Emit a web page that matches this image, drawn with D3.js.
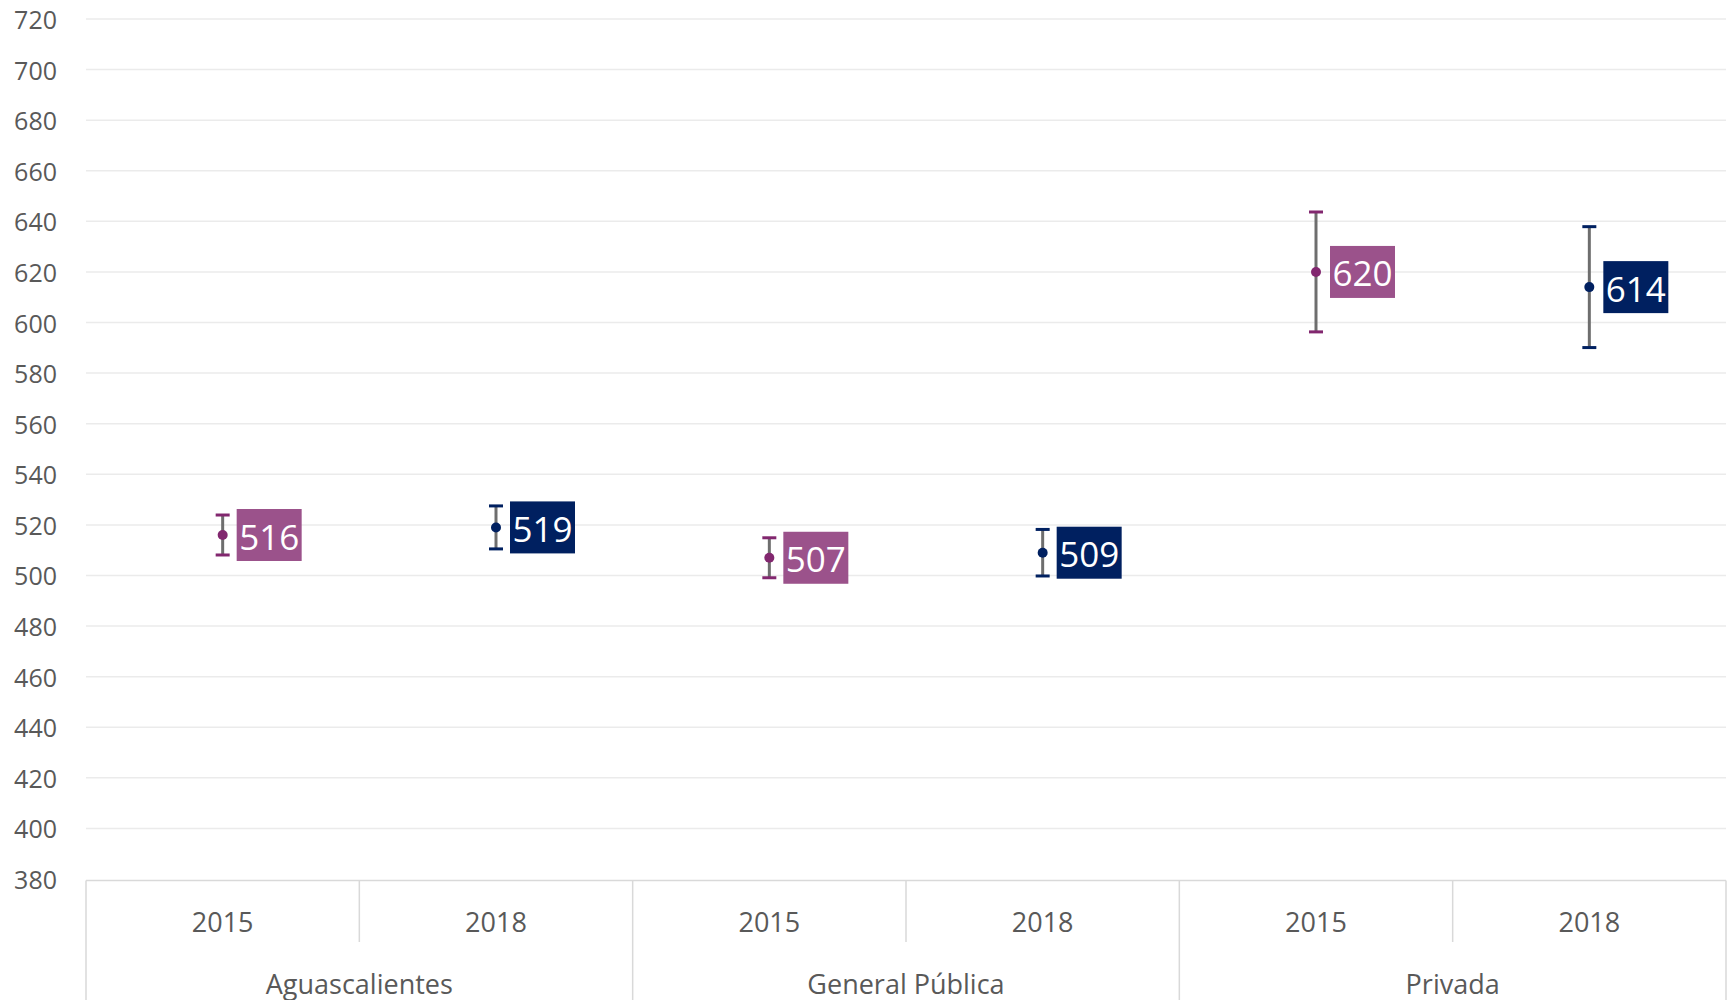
<!DOCTYPE html>
<html lang="es">
<head>
    <meta charset="UTF-8">
    <title>Puntajes 2015 - 2018</title>
    <style>
        body{ margin: 0; background: #fff; }
        svg{ display: block; }
        text{ font-family: "Open Sans", "Noto Sans", sans-serif; }
    </style>
    <script src="https://cdn.jsdelivr.net/npm/d3@7"></script>
</head>
<body>
<script>
    // datos
    const groups = ["Aguascalientes", "General Pública", "Privada"]
    const years = ["2015", "2018"]
    const values2015 = [516, 507, 620]
    const values2018 = [519, 509, 614]
    const err2015 = [7.9, 7.9, 23.7]
    const err2018 = [8.5, 9.2, 23.9]
    const yTicks = d3.range(380, 721, 20)

    const width = 1733
    const height = 1000
    const margin = {left: 86, right: 7, top: 19, bottom: 121}

    const colors = {
        "2015": {dot: "#82276f", box: "#9b528b"},
        "2018": {dot: "#002060", box: "#002060"}
    }

    let svg = d3.select("body").append("svg")
        .attr("width", width)
        .attr("height", height)

    // one row per point
    let rows = []
    groups.forEach((g, i) => {
        rows.push({group: g, year: "2015", value: values2015[i], err: err2015[i]})
        rows.push({group: g, year: "2018", value: values2018[i], err: err2018[i]})
    })

    let x = d3.scaleBand()
        .domain(rows.map(d => d.group + "|" + d.year))
        .range([margin.left, width - margin.right])

    let y = d3.scaleLinear()
        .domain([380, 720])
        .range([height - margin.bottom, margin.top])

    // gridlines
    svg.append("g").selectAll("line")
        .data(yTicks.filter(t => t > 380))
        .enter()
        .append("line")
        .attr("x1", margin.left)
        .attr("x2", width - margin.right)
        .attr("y1", d => y(d))
        .attr("y2", d => y(d))
        .attr("stroke", "#ebebeb")
        .attr("stroke-width", 1.5)

    // y labels
    svg.append("g").selectAll("text")
        .data(yTicks)
        .enter()
        .append("text")
        .attr("x", 57)
        .attr("y", d => y(d))
        .attr("text-anchor", "end")
        .attr("dominant-baseline", "central")
        .attr("fill", "#595959")
        .attr("font-size", 25)
        .text(d => d)

    // x axis box
    let axisY = y(380) + 1.5
    let gx = svg.append("g")
    gx.append("line")
        .attr("x1", margin.left).attr("x2", width - margin.right)
        .attr("y1", axisY).attr("y2", axisY)
        .attr("stroke", "#d9d9d9").attr("stroke-width", 1.5)

    let edges = rows.map((d, i) => ({pos: x(d.group + "|" + d.year), major: i % 2 == 0}))
    edges.push({pos: width - margin.right, major: true})

    gx.selectAll(".edge")
        .data(edges)
        .enter()
        .append("line")
        .attr("class", "edge")
        .attr("x1", d => d.pos).attr("x2", d => d.pos)
        .attr("y1", axisY)
        .attr("y2", d => d.major ? height : 942)
        .attr("stroke", "#d9d9d9").attr("stroke-width", 1.5)

    gx.selectAll(".year")
        .data(rows)
        .enter()
        .append("text")
        .attr("class", "year")
        .attr("x", d => x(d.group + "|" + d.year) + x.bandwidth() / 2)
        .attr("y", 921)
        .attr("text-anchor", "middle")
        .attr("dominant-baseline", "central")
        .attr("fill", "#595959")
        .attr("font-size", 27)
        .text(d => d.year)

    gx.selectAll(".grp")
        .data(groups)
        .enter()
        .append("text")
        .attr("class", "grp")
        .attr("x", d => x(d + "|2015") + x.bandwidth())
        .attr("y", 983)
        .attr("text-anchor", "middle")
        .attr("dominant-baseline", "central")
        .attr("fill", "#595959")
        .attr("font-size", 27)
        .text(d => d)

    // points with error bars
    let gPts = svg.append("g").selectAll("g")
        .data(rows)
        .enter()
        .append("g")
        .attr("transform", d => `translate(${x(d.group + "|" + d.year) + x.bandwidth() / 2},0)`)

    gPts.append("line")
        .attr("y1", d => y(d.value + d.err))
        .attr("y2", d => y(d.value - d.err))
        .attr("stroke", "#6e6e6e")
        .attr("stroke-width", 3)

    gPts.selectAll(".cap")
        .data(d => [d, d].map((r, k) => ({r: r, v: k == 0 ? r.value + r.err : r.value - r.err})))
        .enter()
        .append("line")
        .attr("class", "cap")
        .attr("x1", -7).attr("x2", 7)
        .attr("y1", d => y(d.v)).attr("y2", d => y(d.v))
        .attr("stroke", d => colors[d.r.year].dot)
        .attr("stroke-width", 3)

    gPts.append("circle")
        .attr("cy", d => y(d.value))
        .attr("r", 5)
        .attr("fill", d => colors[d.year].dot)

    // data labels
    gPts.append("rect")
        .attr("x", 14)
        .attr("y", d => y(d.value) - 26)
        .attr("width", 65)
        .attr("height", 52)
        .attr("fill", d => colors[d.year].box)

    gPts.append("text")
        .attr("x", 14 + 32.5)
        .attr("y", d => y(d.value) + 1)
        .attr("text-anchor", "middle")
        .attr("dominant-baseline", "central")
        .attr("fill", "#fff")
        .attr("font-size", 35)
        .text(d => d.value)
</script>
</body>
</html>
